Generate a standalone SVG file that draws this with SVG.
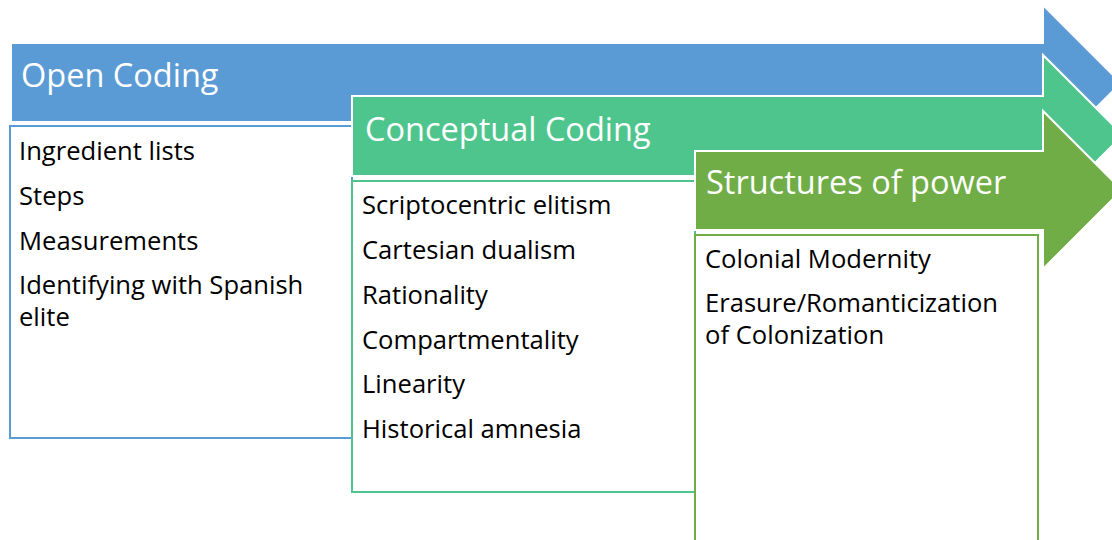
<svg xmlns="http://www.w3.org/2000/svg" width="1112" height="540" viewBox="0 0 1112 540">
  <style>
    .arrow { stroke: #ffffff; stroke-width: 2; stroke-linejoin: miter; }
    .box { fill: #ffffff; stroke-width: 2; }
    .head { font-family: "Open Sans", "Liberation Sans", sans-serif; font-size: 32.5px; fill: #ffffff; }
    .item { font-family: "Open Sans", "Liberation Sans", sans-serif; font-size: 25.6px; fill: #000000; }
    .blue { fill: #5b9bd5; }
    .teal { fill: #4fc58e; }
    .green { fill: #70ad47; }
  </style>
  <rect width="1112" height="540" fill="#ffffff"/>

  <!-- stage 1 -->
  <g id="open-coding">
    <polygon class="arrow blue" points="11,43 1043,43 1043,5 1121,83 1043,161 1043,122 11,122"/>
    <text class="head" x="21" y="87">Open Coding</text>
    <rect class="box" x="10" y="126" width="342" height="312" stroke="#5b9bd5"/>
    <text class="item" x="19" y="160">Ingredient lists</text>
    <text class="item" x="19" y="205">Steps</text>
    <text class="item" x="19" y="250">Measurements</text>
    <text class="item" x="19" y="294">Identifying with Spanish</text>
    <text class="item" x="19" y="326">elite</text>
  </g>

  <!-- stage 2 -->
  <g id="conceptual-coding">
    <polygon class="arrow teal" points="352,96 1043,96 1043,55 1123,135 1043,215 1043,176 352,176"/>
    <text class="head" x="365" y="141">Conceptual Coding</text>
    <rect class="box" x="352" y="181" width="343" height="311" stroke="#4fc58e"/>
    <text class="item" x="362" y="214">Scriptocentric elitism</text>
    <text class="item" x="362" y="259">Cartesian dualism</text>
    <text class="item" x="362" y="304">Rationality</text>
    <text class="item" x="362" y="349">Compartmentality</text>
    <text class="item" x="362" y="393">Linearity</text>
    <text class="item" x="362" y="438">Historical amnesia</text>
  </g>

  <!-- stage 3 -->
  <g id="structures-of-power">
    <polygon class="arrow green" points="695,151 1043,151 1043,111 1122,190 1043,269 1043,230 695,230"/>
    <text class="head" x="706" y="194">Structures of power</text>
    <rect class="box" x="695" y="235" width="343" height="320" stroke="#70ad47"/>
    <text class="item" x="705" y="268">Colonial Modernity</text>
    <text class="item" x="705" y="312">Erasure/Romanticization</text>
    <text class="item" x="705" y="344">of Colonization</text>
  </g>

  <g id="connectors"></g>
</svg>
